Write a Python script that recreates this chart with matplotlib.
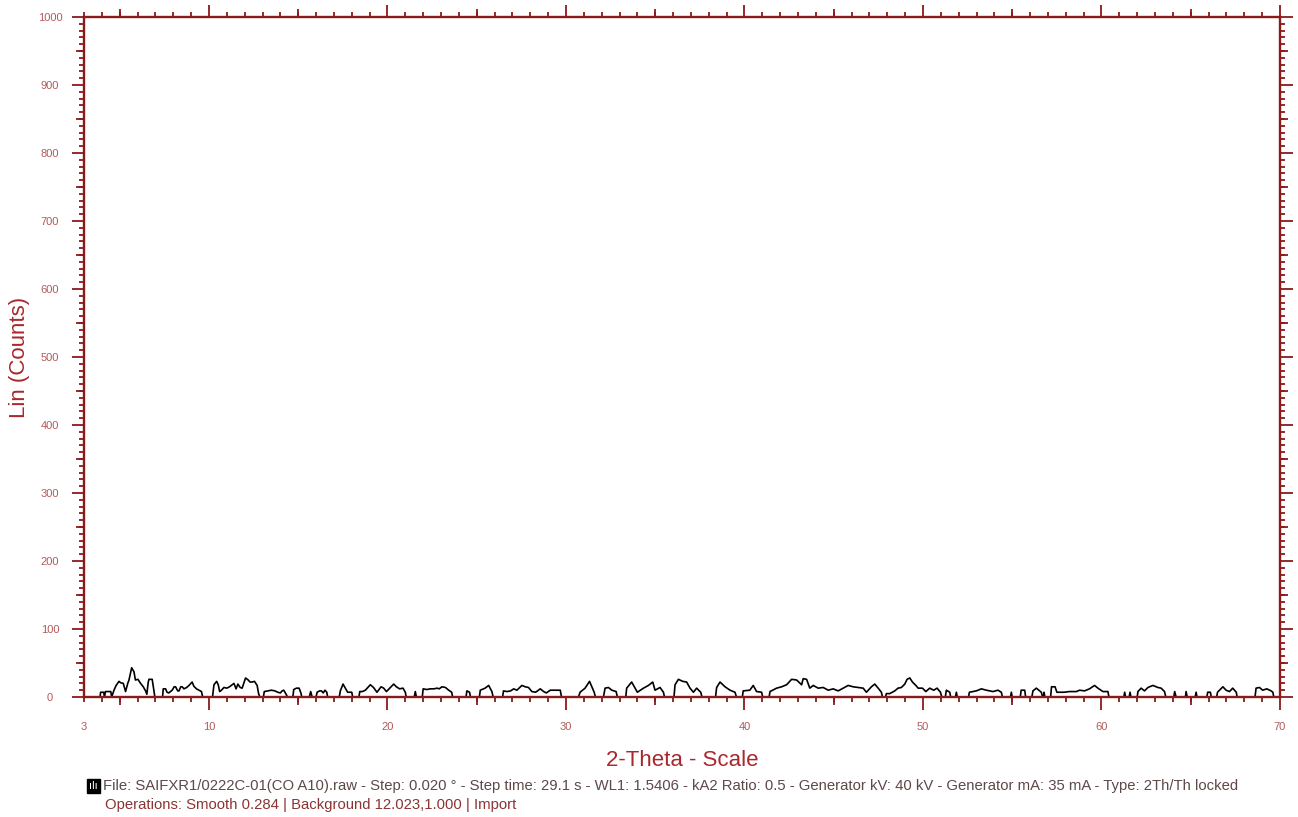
#!/usr/bin/env python

import numpy as np
from matplotlib import pyplot as plt

# diffractogram trace (0 = dropped to baseline)
two_theta = [
    3.90, 3.93, 4.10, 4.15, 4.20, 4.50, 4.55, 4.68, 4.80, 4.96, 5.05, 5.20,
    5.33, 5.45, 5.52, 5.67, 5.80, 5.88, 6.02, 6.17, 6.32, 6.45, 6.52, 6.60,
    6.64, 6.82, 6.92, 6.97, 7.40, 7.44, 7.57, 7.65, 7.75, 7.94, 8.05, 8.13,
    8.25, 8.32, 8.42, 8.50, 8.60, 8.75, 8.88, 9.06, 9.15, 9.30, 9.44, 9.58,
    9.65, 10.20, 10.28, 10.43, 10.52, 10.60, 10.70, 10.84, 11.00, 11.15,
    11.25, 11.40, 11.52, 11.62, 11.75, 11.86, 12.05, 12.20, 12.30, 12.42,
    12.55, 12.70, 12.78, 12.85, 13.05, 13.10, 13.30, 13.50, 13.70, 13.85,
    14.00, 14.10, 14.19, 14.30, 14.40, 14.70, 14.75, 14.90, 15.05, 15.15,
    15.20, 15.62, 15.70, 15.78, 16.00, 16.06, 16.20, 16.30, 16.40, 16.50,
    16.60, 16.65, 17.30, 17.36, 17.51, 17.64, 17.77, 18.00, 18.05, 18.40,
    18.45, 18.60, 18.76, 18.90, 19.04, 19.22, 19.41, 19.50, 19.64, 19.79,
    19.94, 20.16, 20.35, 20.50, 20.68, 20.87, 21.00, 21.05, 21.50, 21.56,
    21.62, 21.95, 22.00, 22.20, 22.40, 22.60, 22.78, 22.90, 23.05, 23.25,
    23.43, 23.60, 23.65, 24.40, 24.45, 24.60, 24.65, 25.15, 25.20, 25.47,
    25.67, 25.85, 25.92, 26.45, 26.50, 26.70, 26.90, 27.07, 27.25, 27.53,
    27.72, 27.90, 28.09, 28.30, 28.56, 28.75, 28.90, 29.12, 29.40, 29.68,
    29.75, 30.70, 30.79, 31.07, 31.32, 31.45, 31.58, 31.65, 32.10, 32.19,
    32.38, 32.57, 32.81, 32.88, 33.35, 33.40, 33.68, 33.87, 34.00, 34.34,
    34.62, 34.86, 34.99, 35.27, 35.46, 35.52, 36.05, 36.11, 36.30, 36.54,
    36.76, 36.95, 37.14, 37.32, 37.55, 37.62, 38.38, 38.44, 38.63, 38.91,
    39.19, 39.47, 39.55, 39.88, 39.93, 40.30, 40.49, 40.68, 40.96, 41.02,
    41.38, 41.43, 41.80, 42.08, 42.36, 42.64, 42.92, 43.20, 43.29, 43.48,
    43.66, 43.85, 44.13, 44.41, 44.69, 44.97, 45.25, 45.53, 45.81, 46.09,
    46.37, 46.65, 46.83, 47.11, 47.30, 47.49, 47.67, 47.73, 47.90, 47.95,
    48.14, 48.42, 48.60, 48.79, 48.98, 49.11, 49.26, 49.41, 49.60, 49.73,
    49.97, 50.16, 50.38, 50.60, 50.79, 50.98, 51.05, 51.25, 51.31, 51.50,
    51.55, 51.82, 51.87, 51.92, 52.55, 52.60, 52.99, 53.27, 53.55, 53.74,
    53.92, 54.20, 54.39, 54.45, 54.90, 54.95, 55.00, 55.45, 55.50, 55.70,
    55.75, 56.10, 56.16, 56.35, 56.63, 56.70, 56.75, 56.78, 56.83, 57.15,
    57.20, 57.40, 57.50, 57.80, 57.90, 58.20, 58.60, 58.77, 59.05, 59.33,
    59.61, 59.80, 60.08, 60.36, 60.42, 61.25, 61.30, 61.35, 61.55, 61.60,
    61.65, 62.00, 62.04, 62.22, 62.41, 62.60, 62.88, 63.16, 63.34, 63.53,
    63.60, 64.05, 64.10, 64.18, 64.70, 64.74, 64.80, 65.25, 65.30, 65.35,
    65.90, 65.95, 66.10, 66.15, 66.45, 66.50, 66.80, 66.98, 67.17, 67.35,
    67.55, 67.60, 68.60, 68.66, 68.85, 69.03, 69.26, 69.50, 69.60, 69.65,
]
counts = [
    0, 7, 7, 0, 8, 8, 0, 10, 17, 23, 21, 20,
    8, 20, 25, 43, 37, 25, 26, 20, 15, 9, 4, 22,
    26, 26, 8, 0, 0, 12, 12, 7, 6, 10, 15, 15,
    9, 9, 15, 15, 12, 14, 17, 22, 16, 12, 10, 8,
    0, 0, 18, 23, 18, 8, 10, 14, 13, 15,
    17, 20, 12, 19, 14, 13, 28, 25, 22, 22,
    23, 17, 5, 0, 0, 8, 9, 10, 9, 7,
    6, 9, 10, 5, 0, 0, 11, 13, 13, 6,
    0, 0, 8, 0, 0, 7, 9, 9, 6, 10,
    7, 0, 0, 9, 19, 13, 7, 7, 0, 0,
    8, 8, 10, 14, 18, 14, 7, 10, 15, 13,
    8, 14, 19, 15, 12, 13, 7, 0, 0, 8,
    0, 0, 12, 11, 12, 12, 13, 12, 15, 14,
    10, 7, 0, 0, 9, 7, 0, 0, 10, 13,
    17, 8, 0, 0, 9, 8, 9, 12, 10, 17,
    15, 14, 8, 7, 12, 8, 6, 10, 10, 10,
    0, 0, 7, 13, 23, 15, 7, 0, 0, 13,
    14, 10, 8, 0, 0, 13, 22, 13, 7, 13,
    17, 22, 10, 14, 7, 0, 0, 18, 26, 23,
    22, 13, 7, 13, 7, 0, 0, 14, 22, 15,
    10, 7, 0, 0, 9, 10, 17, 8, 7, 0,
    0, 8, 13, 15, 18, 26, 25, 18, 27, 26,
    13, 17, 13, 14, 10, 12, 9, 13, 17, 15,
    14, 13, 7, 15, 19, 13, 7, 0, 0, 5,
    5, 9, 13, 14, 19, 26, 28, 22, 17, 13,
    13, 8, 13, 10, 13, 7, 0, 0, 10, 7,
    0, 0, 7, 0, 0, 7, 9, 12, 10, 9,
    8, 10, 7, 0, 0, 7, 0, 0, 10, 10,
    0, 0, 9, 13, 7, 0, 0, 7, 0, 0,
    15, 15, 7, 7, 7, 8, 8, 10, 9, 12,
    17, 13, 8, 8, 0, 0, 7, 0, 0, 7,
    0, 0, 8, 13, 9, 14, 17, 14, 13, 8,
    0, 0, 8, 0, 0, 8, 0, 0, 7, 0,
    0, 7, 7, 0, 0, 7, 15, 10, 8, 13,
    7, 0, 0, 13, 14, 10, 12, 9, 7, 0,
]

x_major = [3, 10, 20, 30, 40, 50, 60, 70]
y_major = list(range(0, 1001, 100))

footer1 = ("File: SAIFXR1/0222C-01(CO A10).raw - Step: 0.020 \u00b0 - Step time: 29.1 s - "
           "WL1: 1.5406 - kA2 Ratio: 0.5 - Generator kV: 40 kV - Generator mA: 35 mA - "
           "Type: 2Th/Th locked")
footer2 = "Operations: Smooth 0.284 | Background 12.023,1.000 | Import"

axis_red  = '#8b1a1a'
label_red = '#b25a5a'
title_red = '#a8282d'

plt.rcParams['font.family'] = ['Liberation Sans', 'DejaVu Sans']


def medium_ticks(ax, where, ticks, horiz):
    # third tick level (every 5 deg / 50 counts) via a secondary axis
    if horiz:
        sec = ax.secondary_xaxis(where)
        sec.set_xticks(ticks)
    else:
        sec = ax.secondary_yaxis(where)
        sec.set_yticks(ticks)
    sec.tick_params(direction='out', length=6, width=1.3, color=axis_red,
                    labelbottom=False, labeltop=False,
                    labelleft=False, labelright=False)
    for s in sec.spines.values():
        s.set_visible(False)
    return sec


def main():
    fig = plt.figure(figsize=(12.98, 8.17), dpi=100)
    ax = fig.add_axes([84/1298, 1 - 697/817, (1280 - 84)/1298, (697 - 17)/817])

    ax.plot(two_theta, counts, color='black', lw=1.2, zorder=2)

    ax.set_xlim(3, 70)
    ax.set_ylim(0, 1000)
    for s in ax.spines.values():
        s.set_color(axis_red)
        s.set_linewidth(1.7)
        s.set_zorder(3)

    ax.set_xticks(x_major)
    ax.set_xticks(np.arange(3, 71, 1), minor=True)
    ax.set_yticks(y_major)
    ax.set_yticks(np.arange(0, 1001, 10), minor=True)

    ax.tick_params(which='both', direction='out', width=1.3, color=axis_red,
                   top=True, right=True, labelcolor=label_red, labelsize=8)
    ax.tick_params(which='major', length=9)
    ax.tick_params(which='minor', length=3.5)
    ax.tick_params(axis='x', pad=9)
    ax.tick_params(axis='y', pad=15.5)
    for lbl in ax.get_yticklabels():
        lbl.set_ha('center')

    # the tick at 3 is a short one
    t0 = ax.xaxis.get_major_ticks()[0]
    t0.tick1line.set_markersize(3.5)
    t0.tick2line.set_markersize(3.5)

    medium_ticks(ax, 'bottom', np.arange(5, 70, 10), True)
    medium_ticks(ax, 'top', np.arange(5, 70, 10), True)
    medium_ticks(ax, 'left', np.arange(50, 1000, 100), False)
    medium_ticks(ax, 'right', np.arange(50, 1000, 100), False)

    ax.set_xlabel('2-Theta - Scale', fontsize=16, color=title_red)
    ax.set_ylabel('Lin (Counts)', fontsize=16, color=title_red)
    ax.xaxis.set_label_coords(0.5, -(760 - 697)/680, transform=ax.transAxes)
    ax.yaxis.set_label_coords(-(84 - 20)/1196, 0.5, transform=ax.transAxes)
    ax.xaxis.label.set_va('center')
    ax.yaxis.label.set_va('center')

    # footer
    fig.text(89/1298, 1 - 786/817, '\u0131l\u0131', color='white', fontsize=8,
             va='center', ha='left',
             bbox=dict(boxstyle='square,pad=0.2', fc='black', ec='black'))
    fig.text(103/1298, 1 - 786/817, footer1, color='#5e4848', fontsize=10.7,
             va='center', ha='left')
    fig.text(105/1298, 1 - 805/817, footer2, color='#8b3434', fontsize=10.7,
             va='center', ha='left')

    fig.savefig('out.png', dpi=100)


if __name__ == '__main__':
    main()
